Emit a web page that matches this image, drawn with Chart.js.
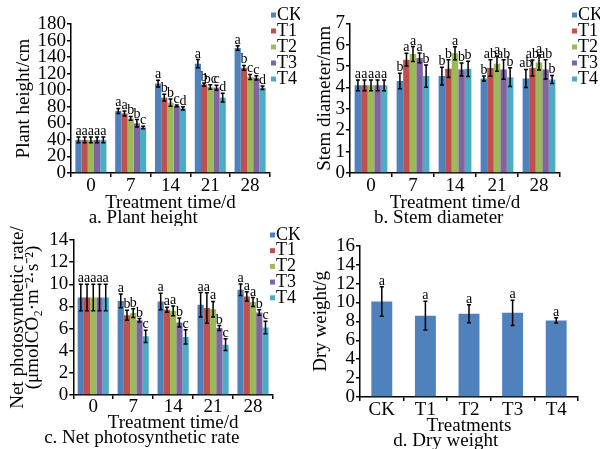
<!DOCTYPE html>
<html>
<head>
<meta charset="utf-8">
<script src="https://cdn.jsdelivr.net/npm/chart.js@4.4.1/dist/chart.umd.min.js"></script>
<style>
  body { margin: 0; background: #fff; }
  #wrap { position: relative; width: 600px; height: 449px; overflow: hidden; background: #fff; }
  canvas { position: absolute; }
</style>
</head>
<body>
<div id="wrap">
  <canvas id="chartA" width="300" height="226" style="left:0;top:0"></canvas>
  <canvas id="chartB" width="300" height="226" style="left:300px;top:0"></canvas>
  <canvas id="chartC" width="300" height="224" style="left:0;top:225px"></canvas>
  <canvas id="chartD" width="300" height="224" style="left:300px;top:225px"></canvas>
</div>
<script>
// categories
const days = ['0', '7', '14', '21', '28'];
const treatments = ['CK', 'T1', 'T2', 'T3', 'T4'];

// a. plant height (cm), one row per treatment, one column per day
const heightMeans = [
  [40, 75, 108, 132, 151],
  [40, 72, 91, 107, 127],
  [40, 66, 85, 104, 116],
  [40, 60, 81, 103, 115],
  [40, 55, 78, 91, 103]
];
const heightErrors = [
  [3.5, 3, 4, 5, 2.8],
  [3.5, 3, 4, 1.8, 3],
  [3.5, 2.4, 4.3, 2.7, 3],
  [3.5, 4.5, 1, 3.1, 2.6],
  [3.5, 1.6, 2, 5.3, 2]
];
const heightLetters = [
  ['a', 'a', 'a', 'a', 'a'],
  ['a', 'a', 'b', 'b', 'b'],
  ['a', 'b', 'b', 'bc', 'c'],
  ['a', 'b', 'c', 'c', 'c'],
  ['a', 'c', 'd', 'd', 'd']
];

// b. stem diameter (mm)
const stemMeans = [
  [4.1, 4.3, 4.53, 4.42, 4.42],
  [4.1, 5.3, 4.88, 4.91, 4.91],
  [4.1, 5.56, 5.6, 5.11, 5.17],
  [4.1, 5.38, 4.84, 4.84, 4.84],
  [4.1, 4.53, 4.87, 4.48, 4.37]
];
const stemErrors = [
  [0.25, 0.36, 0.42, 0.12, 0.42],
  [0.25, 0.3, 0.42, 0.39, 0.37],
  [0.25, 0.35, 0.3, 0.35, 0.35],
  [0.25, 0.23, 0.3, 0.46, 0.45],
  [0.25, 0.52, 0.36, 0.44, 0.19]
];
const stemLetters = [
  ['a', 'b', 'b', 'b', 'ab'],
  ['a', 'a', 'b', 'ab', 'ab'],
  ['a', 'a', 'a', 'a', 'a'],
  ['a', 'a', 'b', 'ab', 'ab'],
  ['a', 'b', 'b', 'b', 'b']
];

// c. net photosynthetic rate
const pnMeans = [
  [8.8, 8.5, 8.45, 8.15, 9.5],
  [8.8, 7.2, 7.7, 7.85, 8.9],
  [8.8, 7.4, 7.6, 7.75, 8.4],
  [8.8, 6.75, 6.55, 6.05, 7.45],
  [8.8, 5.3, 5.25, 4.55, 6.1]
];
const pnErrors = [
  [1.2, 0.63, 0.75, 1.1, 0.52],
  [1.2, 0.45, 0.22, 1.38, 0.42],
  [1.2, 0.4, 0.45, 0.7, 0.4],
  [1.2, 0.15, 0.4, 0.22, 0.25],
  [1.2, 0.55, 0.64, 0.52, 0.57]
];
const pnLetters = [
  ['a', 'a', 'a', 'a', 'a'],
  ['a', 'b', 'a', 'a', 'a'],
  ['a', 'b', 'a', 'a', 'a'],
  ['a', 'b', 'b', 'b', 'b'],
  ['a', 'c', 'c', 'c', 'c']
];

// d. dry weight (g), one value per treatment
const dryMeans = [10.1, 8.6, 8.8, 8.9, 8.1];
const dryErrors = [1.55, 1.52, 0.95, 1.34, 0.27];
const dryLetters = ['a', 'a', 'a', 'a', 'a'];

const colors = ['#4F81BD', '#C0504D', '#9BBB59', '#8064A2', '#4BACC6'];
const serif = '"Liberation Serif", "Times New Roman", serif';

// error bars and significance letters above each bar
const errorBars = {
  id: 'errorBars',
  afterDatasetsDraw(chart) {
    const ctx = chart.ctx;
    const y = chart.scales.y;
    chart.data.datasets.forEach((ds, i) => {
      chart.getDatasetMeta(i).data.forEach((bar, j) => {
        const v = ds.data[j], e = ds.errors[j];
        const top = y.getPixelForValue(v + e);
        const bot = y.getPixelForValue(v - e);
        ctx.save();
        ctx.strokeStyle = '#000';
        ctx.lineWidth = 1.5;
        ctx.beginPath();
        ctx.moveTo(bar.x, top); ctx.lineTo(bar.x, bot);
        ctx.moveTo(bar.x - 2, top); ctx.lineTo(bar.x + 2, top);
        ctx.moveTo(bar.x - 2, bot); ctx.lineTo(bar.x + 2, bot);
        ctx.stroke();
        ctx.fillStyle = '#000';
        ctx.font = '14px ' + serif;
        ctx.textAlign = 'center';
        ctx.textBaseline = 'alphabetic';
        ctx.fillText(ds.letters[j], bar.x, top - 2);
        ctx.restore();
      });
    });
  }
};

// small square legend squeezed against the right side
const sideLegend = {
  id: 'sideLegend',
  afterDraw(chart, args, opts) {
    if (!opts.x) return;
    const ctx = chart.ctx;
    ctx.save();
    ctx.font = opts.size + 'px ' + serif;
    ctx.textBaseline = 'middle';
    chart.data.datasets.forEach((ds, i) => {
      const cy = opts.y + i * opts.step;
      ctx.fillStyle = ds.backgroundColor;
      ctx.fillRect(opts.x, cy - 2.5, 5, 5);
      ctx.fillStyle = '#000';
      ctx.fillText(ds.label, opts.x + 6, cy);
    });
    ctx.restore();
  }
};

const groupSets = (means, errs, letters) => treatments.map((t, i) => ({
  label: t,
  data: means[i],
  errors: errs[i],
  letters: letters[i],
  backgroundColor: colors[i],
  borderWidth: 0,
  barPercentage: 1,
  categoryPercentage: 0.78
}));

function makeChart(id, p) {
  const tickFont = { family: serif, size: 19, weight: 'normal', lineHeight: '15px' };
  const titleFont = { family: serif, size: 19, weight: 'normal', lineHeight: '15px' };
  return new Chart(document.getElementById(id), {
    type: 'bar',
    data: { labels: p.labels, datasets: p.datasets },
    options: {
      responsive: false,
      animation: false,
      layout: { padding: p.padding },
      plugins: {
        legend: { display: false },
        tooltip: { enabled: false },
        title: { display: true, text: p.caption, position: 'bottom', color: '#000', font: titleFont, padding: 0 },
        sideLegend: p.legend || {}
      },
      scales: {
        x: {
          grid: { offset: true, drawOnChartArea: false, tickLength: 4, color: '#000', lineWidth: 1.5 },
          border: { color: '#000', width: 1.5 },
          ticks: { color: '#000', font: tickFont, padding: p.xPad },
          title: { display: true, text: p.xTitle, color: '#000', font: titleFont, padding: 0 }
        },
        y: {
          min: 0,
          max: p.yMax,
          ticks: { stepSize: p.step, autoSkip: false, color: '#000', font: tickFont, padding: 1 },
          grid: { drawOnChartArea: false, tickLength: 4, color: '#000', lineWidth: 1.5 },
          border: { color: '#000', width: 1.5 },
          title: { display: true, text: p.yTitle, color: '#000', font: titleFont, padding: 0 },
          afterFit: (s) => { s.width = p.yWidth; }
        }
      }
    },
    plugins: [errorBars, sideLegend]
  });
}

makeChart('chartA', {
  labels: days,
  datasets: groupSets(heightMeans, heightErrors, heightLetters),
  padding: { left: 16.5, top: 24, right: 30, bottom: 0 },
  yWidth: 54.5, yMax: 180, step: 20, xPad: 2,
  yTitle: 'Plant height/cm', xTitle: 'Treatment time/d', caption: 'a. Plant height',
  legend: { x: 271, y: 15, step: 16, size: 18 }
});

makeChart('chartB', {
  labels: days,
  datasets: groupSets(stemMeans, stemErrors, stemLetters),
  padding: { left: 17.5, top: 23.3, right: 40, bottom: 0 },
  yWidth: 32.5, yMax: 7, step: 1, xPad: 2,
  yTitle: 'Stem diameter/mm', xTitle: 'Treatment time/d', caption: 'b. Stem diameter',
  legend: { x: 272, y: 15, step: 16, size: 18 }
});

makeChart('chartC', {
  labels: days,
  datasets: groupSets(pnMeans, pnErrors, pnLetters),
  padding: { left: 10.5, top: 15, right: 27, bottom: 3 },
  yWidth: 62.8, yMax: 14, step: 2, xPad: 1,
  yTitle: ['Net photosynthetic rate/', '(\u03bcmolCO\u2082\u00b7m\u207b\u00b2\u00b7s\u207b\u00b2)'],
  xTitle: 'Treatment time/d', caption: 'c. Net photosynthetic rate',
  legend: { x: 270, y: 10, step: 15.7, size: 18 }
});

makeChart('chartD', {
  labels: treatments,
  datasets: [{
    label: 'Dry weight',
    data: dryMeans,
    errors: dryErrors,
    letters: dryLetters,
    backgroundColor: colors[0],
    borderWidth: 0,
    barPercentage: 1,
    categoryPercentage: 0.48
  }],
  padding: { left: 13.5, top: 20.7, right: 22, bottom: 0 },
  yWidth: 46.5, yMax: 16, step: 2, xPad: 1.5,
  yTitle: 'Dry weight/g', xTitle: 'Treatments', caption: 'd. Dry weight'
});
</script>
</body>
</html>
